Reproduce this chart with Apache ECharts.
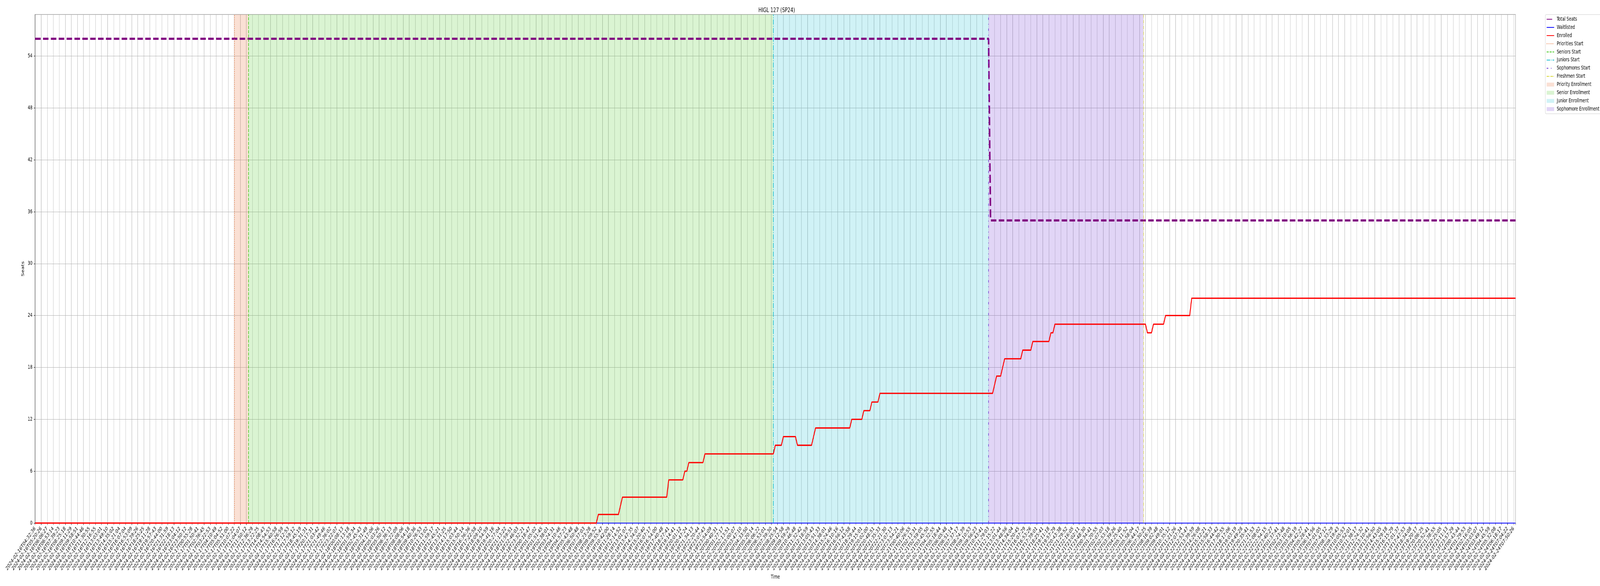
<!DOCTYPE html>
<html>
<head>
<meta charset="utf-8">
<script src="https://cdn.jsdelivr.net/npm/echarts@6/dist/echarts.min.js"></script>
<style>html,body{margin:0;padding:0;background:#fff;overflow:hidden}#chart{width:6000px;height:1500px;transform-origin:0 0}</style>
</head>
<body>
<div id="chart"></div>
<script>
// ---------------- DATA ----------------
const chartTitle = 'HIGL 127 (SP24)';
const xAxisName = 'Time';
const yAxisName = 'Seats';

// one label every 3 samples (sample index = 3 * label index)
const tickLabels = [
  /*0*/ '2024-02-16T04:32:36','2024-02-16T05:20:26','2024-02-16T06:06:27','2024-02-16T06:53:14','2024-02-16T07:39:23','2024-02-16T08:25:18','2024-02-16T09:11:29','2024-02-16T09:58:51','2024-02-16T10:44:46','2024-02-16T11:30:55',
  /*10*/ '2024-02-16T12:16:55','2024-02-16T13:03:01','2024-02-16T13:49:10','2024-02-16T14:35:02','2024-02-16T15:21:04','2024-02-16T16:07:04','2024-02-16T16:53:09','2024-02-16T17:39:26','2024-02-16T18:25:25','2024-02-16T19:11:28',
  /*20*/ '2024-02-16T19:57:43','2024-02-16T20:44:00','2024-02-16T21:31:59','2024-02-16T22:18:13','2024-02-16T23:04:12','2024-02-16T23:50:12','2024-02-17T00:55:28','2024-02-17T01:50:41','2024-02-17T02:36:45','2024-02-17T03:22:53',
  /*30*/ '2024-02-17T04:10:49','2024-02-17T05:04:52','2024-02-17T05:51:00','2024-02-17T10:07:22','2024-02-17T11:04:07','2024-02-17T11:50:12','2024-02-17T12:36:29','2024-02-17T13:22:25','2024-02-17T14:08:43','2024-02-17T14:54:53',
  /*40*/ '2024-02-17T15:40:58','2024-02-17T16:26:59','2024-02-17T17:12:53','2024-02-17T17:59:12','2024-02-17T18:45:19','2024-02-17T19:31:31','2024-02-17T20:17:31','2024-02-17T21:03:42','2024-02-17T21:49:46','2024-02-17T22:36:02',
  /*50*/ '2024-02-17T23:22:07','2024-02-18T00:08:13','2024-02-18T01:13:18','2024-02-18T01:59:34','2024-02-18T02:45:43','2024-02-18T03:31:49','2024-02-18T04:17:06','2024-02-18T05:03:26','2024-02-18T05:50:12','2024-02-18T06:36:13',
  /*60*/ '2024-02-18T07:22:09','2024-02-18T08:08:06','2024-02-18T08:54:18','2024-02-18T09:40:36','2024-02-18T10:26:53','2024-02-18T11:13:02','2024-02-18T11:59:17','2024-02-18T12:45:21','2024-02-18T13:31:25','2024-02-18T14:17:50',
  /*70*/ '2024-02-18T15:03:44','2024-02-18T15:50:14','2024-02-18T16:36:36','2024-02-18T17:22:58','2024-02-18T18:09:10','2024-02-18T18:54:59','2024-02-18T19:41:16','2024-02-18T20:27:04','2024-02-18T21:13:22','2024-02-18T21:59:51',
  /*80*/ '2024-02-18T22:46:03','2024-02-18T23:32:21','2024-02-19T00:18:47','2024-02-19T01:05:02','2024-02-19T01:51:45','2024-02-19T02:38:01','2024-02-19T03:24:31','2024-02-19T04:10:46','2024-02-19T04:57:23','2024-02-19T05:43:48',
  /*90*/ '2024-02-19T06:50:48','2024-02-19T07:37:03','2024-02-19T08:23:28','2024-02-19T09:09:52','2024-02-19T09:55:47','2024-02-19T10:42:00','2024-02-19T11:28:14','2024-02-19T12:14:52','2024-02-19T13:01:07','2024-02-19T13:47:35',
  /*100*/ '2024-02-19T14:34:07','2024-02-19T15:20:40','2024-02-19T16:07:17','2024-02-19T16:54:00','2024-02-19T17:40:48','2024-02-19T18:27:41','2024-02-19T19:14:41','2024-02-19T20:01:12','2024-02-19T20:47:24','2024-02-19T21:34:13',
  /*110*/ '2024-02-19T22:20:44','2024-02-19T23:07:43','2024-02-19T23:54:09','2024-02-20T00:40:31','2024-02-20T01:27:17','2024-02-20T02:13:51','2024-02-20T03:00:07','2024-02-20T03:47:10','2024-02-20T04:33:50','2024-02-20T05:20:14',
  /*120*/ '2024-02-20T06:06:22','2024-02-20T06:53:01','2024-02-20T07:39:30','2024-02-20T08:25:54','2024-02-20T09:12:58','2024-02-20T09:59:29','2024-02-20T10:46:48','2024-02-20T11:32:42','2024-02-20T12:18:59','2024-02-20T13:05:43',
  /*130*/ '2024-02-20T13:51:33','2024-02-20T14:38:01','2024-02-20T15:24:46','2024-02-20T16:10:16','2024-02-20T16:56:12','2024-02-20T17:43:58','2024-02-20T18:29:44','2024-02-20T19:15:01','2024-02-20T20:02:00','2024-02-20T20:48:51',
  /*140*/ '2024-02-20T21:35:33','2024-02-20T22:21:30','2024-02-20T23:07:13','2024-02-20T23:54:21','2024-02-21T00:40:06','2024-02-21T01:26:55','2024-02-21T02:13:31','2024-02-21T02:59:05','2024-02-21T03:45:50','2024-02-21T04:32:55',
  /*150*/ '2024-02-21T05:18:44','2024-02-21T06:05:48','2024-02-21T06:51:14','2024-02-21T07:37:17','2024-02-21T08:24:39','2024-02-21T09:10:53','2024-02-21T09:56:23','2024-02-21T10:43:41','2024-02-21T11:29:03','2024-02-21T12:15:22',
  /*160*/ '2024-02-21T13:01:44','2024-02-21T13:48:56','2024-02-21T14:34:04','2024-02-21T15:20:45','2024-02-21T16:07:29','2024-02-21T16:53:26','2024-02-21T17:39:01','2024-02-21T18:25:41','2024-02-21T19:11:18','2024-02-21T19:57:29',
  /*170*/ '2024-02-21T20:43:38','2024-02-21T21:29:52','2024-02-21T22:16:05','2024-02-21T23:02:11','2024-02-21T23:48:30','2024-02-22T00:34:41','2024-02-22T01:20:55','2024-02-22T02:07:03','2024-02-22T02:53:18','2024-02-22T03:39:26',
  /*180*/ '2024-02-22T04:25:40','2024-02-22T05:11:52','2024-02-22T05:58:04','2024-02-22T06:44:17','2024-02-22T07:30:25','2024-02-22T08:16:39','2024-02-22T09:02:48','2024-02-22T09:49:01','2024-02-22T10:35:12','2024-02-22T11:21:26',
  /*190*/ '2024-02-22T12:07:34','2024-02-22T12:53:47','2024-02-22T13:39:59','2024-02-22T14:26:08','2024-02-22T15:12:21','2024-02-22T15:58:33','2024-02-22T16:44:42','2024-02-22T17:30:55','2024-02-22T18:17:06','2024-02-22T19:03:19',
  /*200*/ '2024-02-22T19:49:28','2024-02-22T20:35:41','2024-02-22T21:21:53','2024-02-22T22:08:02','2024-02-22T22:54:15','2024-02-22T23:40:27','2024-02-23T01:37:41','2024-02-23T02:23:48','2024-02-23T03:10:05','2024-02-23T03:56:19',
  /*210*/ '2024-02-23T04:42:27','2024-02-23T05:28:41','2024-02-23T06:14:56','2024-02-23T07:01:05','2024-02-23T07:47:12','2024-02-23T08:33:29','2024-02-23T09:19:43','2024-02-23T10:05:53','2024-02-23T10:52:01','2024-02-23T11:38:17',
  /*220*/ '2024-02-23T12:24:32','2024-02-23T13:10:41','2024-02-23T13:56:50','2024-02-23T14:43:05','2024-02-23T15:29:18','2024-02-23T16:15:29','2024-02-23T17:01:37','2024-02-23T17:47:53','2024-02-23T18:34:08','2024-02-23T19:20:17',
  /*230*/ '2024-02-23T20:06:25','2024-02-23T20:52:41','2024-02-23T21:38:55','2024-02-23T22:25:05','2024-02-23T23:11:13','2024-02-23T23:57:29','2024-02-24T00:43:44','2024-02-24T01:29:53','2024-02-24T02:16:05','2024-02-24T03:03:07',
  /*240*/ '2024-02-24T03:49:12','2024-02-24T04:45:59','2024-02-24T05:32:08','2024-02-24T06:18:17','2024-02-24T07:04:22','2024-02-24T07:50:26'
];
const lastSample = 736;            // samples are indexed 0..736
const samplesPerTick = 3;

// Total seats (sample index -> seats)
const totalSeatsIdx = [0, 474, 475, 736];
const totalSeatsVal = [56, 56, 35, 35];

// Waitlisted
const waitlistedIdx = [0, 736];
const waitlistedVal = [0, 0];

// Enrolled (change points)
const enrolledIdx = [0,279,280,290,292,314,315,322,323,324,325,332,333,367,368,371,372,378,379,386,388,405,406,411,412,415,416,419,420,476,478,480,482,490,491,495,496,504,505,506,507,552,553,555,556,561,562,574,575,736];
const enrolledVal = [0,0,1,1,3,3,5,5,6,6,7,7,8,8,9,9,10,10,9,9,11,11,12,12,13,13,14,14,15,15,17,17,19,19,20,20,21,21,22,22,23,23,22,22,23,23,24,24,26,26];

// Enrollment phase starts (sample index)
const startNames = ['Priorities Start', 'Seniors Start', 'Juniors Start', 'Sophomores Start', 'Freshmen Start'];
const startIdx = [99, 106, 367, 474, 551];
const periodNames = ['Priority Enrollment', 'Senior Enrollment', 'Junior Enrollment', 'Sophomore Enrollment'];

const yMax = 58.8;
const yStep = 6;

// ---------------- STYLE ----------------
const DESIGN_W = 6000, DESIGN_H = 1500;
const FONT = 'DejaVu Sans';
const FS = 13.9;
const startColors = ['#e9743a', '#44c81e', '#14bcd0', '#6a2ed0', '#d6d62a'];
const startWidths = [2.1, 2.1, 2.1, 2.1, 1.4];
const startDash = [[2.1, 3.4], [7.7, 3.3], [13.3, 3.3, 2.1, 3.3], [6, 10, 2, 10], [8.9, 2.2, 1.4, 2.2]];
const periodColors = ['rgba(233,116,58,0.22)', 'rgba(68,200,30,0.2)', 'rgba(20,188,208,0.2)', 'rgba(106,46,208,0.2)'];

function zip(a, b) { return a.map((v, i) => [v, b[i]]); }

const series = [
  { name: 'Total Seats', type: 'line', data: zip(totalSeatsIdx, totalSeatsVal), symbol: 'none', z: 4,
    color: '#800080', lineStyle: { color: '#800080', width: 5.5, type: [20.6, 8.9] } },
  { name: 'Waitlisted', type: 'line', data: zip(waitlistedIdx, waitlistedVal), symbol: 'none', z: 4,
    color: '#0000ff', lineStyle: { color: '#0000ff', width: 2 } },
  { name: 'Enrolled', type: 'line', data: zip(enrolledIdx, enrolledVal), symbol: 'none', z: 5,
    color: '#ff0000', lineStyle: { color: '#ff0000', width: 3.3, join: 'round' } }
];
startNames.forEach((n, i) => {
  const ls = { color: startColors[i], width: startWidths[i], type: startDash[i] };
  series.push({ name: n, type: 'line', data: [], symbol: 'none', z: 6, color: startColors[i], lineStyle: ls,
    markLine: { silent: true, symbol: ['none', 'none'], label: { show: false }, lineStyle: ls,
      emphasis: { disabled: true }, data: [{ xAxis: startIdx[i] }] } });
});
periodNames.forEach((n, i) => {
  series.push({ name: n, type: 'line', data: [], symbol: 'none', z: 1, color: periodColors[i],
    markArea: { silent: true, itemStyle: { color: periodColors[i] }, emphasis: { disabled: true },
      data: [[{ xAxis: startIdx[i] }, { xAxis: startIdx[i + 1] }]] } });
});

const legendData = [];
['Total Seats', 'Waitlisted', 'Enrolled'].concat(startNames).forEach(n => legendData.push({ name: n, itemStyle: { opacity: 0 } }));
periodNames.forEach((n, i) => legendData.push({ name: n, icon: 'path://M0,0H28V10H0Z', itemStyle: { color: periodColors[i], opacity: 1 } }));

// The design is laid out on a 6000x1500 canvas; fit it to the actual window.
const el = document.getElementById('chart');
const sx = (window.innerWidth || DESIGN_W) / DESIGN_W;
const sy = (window.innerHeight || DESIGN_H) / DESIGN_H;
if (Math.abs(sx - 1) > 0.001 || Math.abs(sy - 1) > 0.001) {
  el.style.transform = 'scale(' + sx + ',' + sy + ')';
}

const chart = echarts.init(el, null, { renderer: 'canvas', width: DESIGN_W, height: DESIGN_H });
chart.setOption({
  animation: false,
  backgroundColor: '#fff',
  textStyle: { fontFamily: FONT },
  title: { text: chartTitle, left: 2907.5, top: 13, textAlign: 'center',
    textStyle: { fontFamily: FONT, fontSize: 16.7, fontWeight: 'normal', color: '#000' } },
  grid: { left: 131.7, right: 316.7, top: 37.3, bottom: 161, show: true, borderColor: '#000', borderWidth: 1.1, backgroundColor: 'transparent' },
  legend: {
    orient: 'vertical', left: 5795, top: 37.3, itemWidth: 28, itemHeight: 14, itemGap: 6.9,
    padding: [5, 6, 5, 4], backgroundColor: '#fff', borderColor: '#cccccc', borderWidth: 1, borderRadius: 3,
    textStyle: { fontFamily: FONT, fontSize: FS, color: '#000', padding: [0, 0, 0, 5] },
    selectedMode: false, data: legendData
  },
  xAxis: {
    type: 'value', min: 0, max: lastSample, interval: samplesPerTick,
    name: xAxisName, nameLocation: 'middle', nameGap: 128,
    nameTextStyle: { fontFamily: FONT, fontSize: FS, color: '#000' },
    axisLine: { show: true, lineStyle: { color: '#000', width: 1.1 } },
    axisTick: { show: true, length: 4.9, lineStyle: { color: '#000', width: 1.1 } },
    splitLine: { show: true, lineStyle: { color: '#b0b0b0', width: 1.1 } },
    axisLabel: { rotate: 45, margin: 12, fontFamily: FONT, fontSize: FS, color: '#000', showMaxLabel: true,
      formatter: v => (v % samplesPerTick === 0 ? (tickLabels[v / samplesPerTick] || '') : '') }
  },
  yAxis: {
    type: 'value', min: 0, max: yMax, interval: yStep,
    name: yAxisName, nameLocation: 'middle', nameGap: 33, nameRotate: 90,
    nameTextStyle: { fontFamily: FONT, fontSize: FS, color: '#000' },
    axisLine: { show: true, lineStyle: { color: '#000', width: 1.1 } },
    axisTick: { show: true, length: 4.9, lineStyle: { color: '#000', width: 1.1 } },
    splitLine: { show: true, lineStyle: { color: '#b0b0b0', width: 1.1 } },
    axisLabel: { margin: 10, fontFamily: FONT, fontSize: FS, color: '#000', showMaxLabel: false,
      formatter: v => (v % yStep === 0 ? String(v) : '') }
  },
  series: series
});
</script>
</body>
</html>
